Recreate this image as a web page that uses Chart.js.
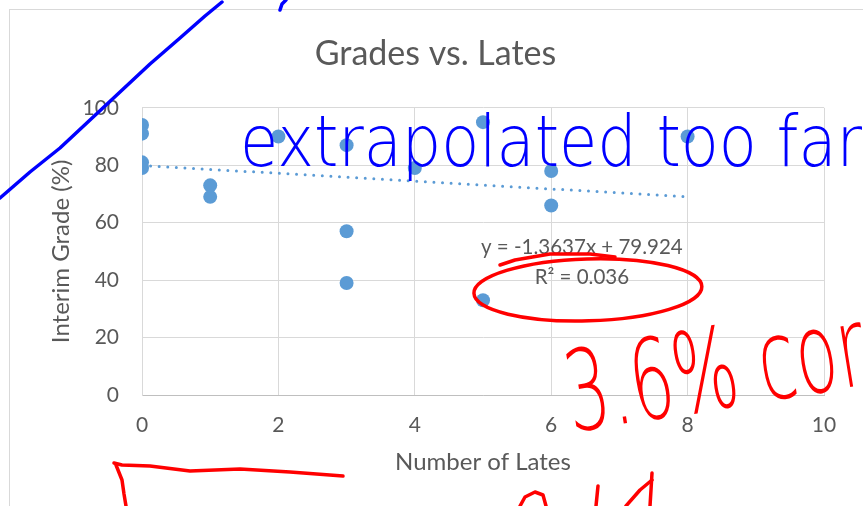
<!DOCTYPE html>
<html>
<head>
<meta charset="utf-8">
<script src="https://cdn.jsdelivr.net/npm/chart.js@4.4.1/dist/chart.umd.min.js"></script>
<style>
  html, body { margin: 0; background: #fff; }
  canvas { display: block; }
</style>
</head>
<body>
<canvas id="gradesChart" width="863" height="506"></canvas>
<script>
// Grades vs. Lates: scatter with linear trendline (Excel style), plus the teacher's ink notes

const TITLE = 'Grades vs. Lates';
const X_TITLE = 'Number of Lates';
const Y_TITLE = 'Interim Grade (%)';

// one entry per student
const LATES  = [0, 0, 0, 0, 1, 1, 2, 3, 3, 3, 4, 5, 5, 6, 6, 8];
const GRADES = [94, 91, 81, 79, 73, 69, 90, 87, 57, 39, 79, 95, 33, 78, 66, 90];

// trendline as printed on the chart
const TREND_SLOPE = -1.3637;
const TREND_INTERCEPT = 79.924;
const TREND_X = [0, 8];
const EQ_LINES = ['y = -1.3637x + 79.924', 'R\u00B2 = 0.036'];
const EQ_AT = [6.45, 46]; // data coords of the label centre

const X_TICKS = [0, 2, 4, 6, 8, 10];
const Y_TICKS = [0, 20, 40, 60, 80, 100];

const FONT = 'Lato, "Open Sans", sans-serif';
const TEXT_GREY = '#595959';
const GRID_GREY = '#d9d9d9';
const MARKER_BLUE = '#5b9bd5';
const INK_BLUE = '#0000ff';
const INK_RED = '#ff0000';

const scatterPoints = LATES.map((x, i) => ({ x, y: GRADES[i] }));
const trendPoints = TREND_X.map(x => ({ x, y: TREND_INTERCEPT + TREND_SLOPE * x }));

// outer chart frame (runs off the right and bottom of the screenshot)
const framePlugin = {
  id: 'frame',
  beforeDraw(chart){
    const ctx = chart.ctx;
    ctx.save();
    ctx.strokeStyle = GRID_GREY;
    ctx.lineWidth = 1;
    ctx.strokeRect(9.5, 9.5, chart.width + 40, chart.height + 40);
    ctx.restore();
  }
};

// trendline equation + R squared
const equationPlugin = {
  id: 'equation',
  afterDatasetsDraw(chart){
    const ctx = chart.ctx;
    const cx = chart.scales.x.getPixelForValue(EQ_AT[0]);
    const cy = chart.scales.y.getPixelForValue(EQ_AT[1]);
    ctx.save();
    ctx.fillStyle = TEXT_GREY;
    ctx.font = '20.5px ' + FONT;
    ctx.textAlign = 'center';
    ctx.textBaseline = 'middle';
    EQ_LINES.forEach((line, i) => {
      ctx.fillText(line, cx, cy + (i - (EQ_LINES.length - 1) / 2) * 30);
    });
    ctx.restore();
  }
};

// hand-drawn pen marks over the screenshot
const INK_STROKES = [
  { color: INK_BLUE, pts: [[0,198],[30,172],[60,148],[90,120],[120,92],[150,64],[180,38],[205,16],[222,2]] },
  { color: INK_BLUE, pts: [[280,10],[282,4],[286,0]] },
  { color: INK_RED, pts: [[500,265],[515,260],[550,254],[590,254],[615,257]] },
  { color: INK_RED, pts: [[114,463],[122,465],[150,466],[190,471],[240,469],[290,472],[343,476]] },
  { color: INK_RED, pts: [[116,465],[122,480],[124,494],[126,506]] },
  { color: INK_RED, pts: [[520,506],[525,497],[535,492],[543,495],[546,506]] },
  { color: INK_RED, pts: [[598,486],[597,496],[596,506]] },
  { color: INK_RED, pts: [[626,506],[640,490],[652,480]] },
  { color: INK_RED, pts: [[652,473],[651,490],[650,506]] }
];
const INK_NOTES = [
  { text: 'extrapolated too far', color: INK_BLUE, x: 240, y: 166, width: 622, size: 72, angle: 0 },
  { text: '3.6% corr', color: INK_RED, x: 572, y: 432, width: 330, size: 112, angle: -0.16 }
];

const inkPlugin = {
  id: 'ink',
  afterDraw(chart){
    const ctx = chart.ctx;
    ctx.save();
    ctx.lineWidth = 3.5;
    ctx.lineCap = 'round';
    ctx.lineJoin = 'round';
    for (const s of INK_STROKES){
      ctx.strokeStyle = s.color;
      ctx.beginPath();
      s.pts.forEach(([x, y], i) => i ? ctx.lineTo(x, y) : ctx.moveTo(x, y));
      ctx.stroke();
    }
    // ellipse round the R squared
    const cx = chart.scales.x.getPixelForValue(EQ_AT[0]) + 6;
    const cy = chart.scales.y.getPixelForValue(EQ_AT[1]) + 27;
    ctx.strokeStyle = INK_RED;
    ctx.beginPath();
    ctx.ellipse(cx, cy, 114, 31, -0.03, 0, Math.PI * 2);
    ctx.stroke();

    for (const n of INK_NOTES){
      ctx.save();
      ctx.font = `200 ${n.size}px "DejaVu Sans", sans-serif`;
      const w = ctx.measureText(n.text).width;
      ctx.translate(n.x, n.y);
      ctx.rotate(n.angle);
      ctx.scale(n.width / w, 1);
      ctx.fillStyle = n.color;
      ctx.textBaseline = 'alphabetic';
      ctx.fillText(n.text, 0, 0);
      ctx.restore();
    }
    ctx.restore();
  }
};

const ctx = document.getElementById('gradesChart');
new Chart(ctx, {
  type: 'scatter',
  data: {
    datasets: [
      {
        label: 'Interim Grade',
        data: scatterPoints,
        backgroundColor: MARKER_BLUE,
        borderColor: MARKER_BLUE,
        borderWidth: 0,
        pointRadius: 7,
        pointHoverRadius: 7
      },
      {
        type: 'line',
        label: 'Linear trend',
        data: trendPoints,
        borderColor: MARKER_BLUE,
        borderWidth: 3,
        borderDash: [0, 8.6],
        borderCapStyle: 'round',
        pointRadius: 0,
        fill: false
      }
    ]
  },
  options: {
    responsive: false,
    animation: false,
    layout: { padding: { left: 47, right: 39, top: 0, bottom: 0 } },
    plugins: {
      legend: { display: false },
      tooltip: { enabled: false },
      title: {
        display: true,
        text: TITLE,
        color: TEXT_GREY,
        font: { family: FONT, size: 34, weight: 'normal' },
        padding: { top: 34, bottom: 33 }
      }
    },
    scales: {
      x: {
        type: 'linear',
        min: 0,
        max: 10,
        afterBuildTicks: s => { s.ticks = X_TICKS.map(value => ({ value })); },
        afterFit: s => { s.height = 111; },
        grid: { color: GRID_GREY, drawTicks: false },
        border: { color: '#bfbfbf' },
        ticks: { color: TEXT_GREY, font: { family: FONT, size: 21 }, padding: 18 },
        title: {
          display: true, text: X_TITLE, color: TEXT_GREY,
          font: { family: FONT, size: 24 }, padding: { top: 0, bottom: 29 }
        }
      },
      y: {
        type: 'linear',
        min: 0,
        max: 100,
        afterBuildTicks: s => { s.ticks = Y_TICKS.map(value => ({ value })); },
        afterFit: s => { s.width = 95; },
        grid: { color: GRID_GREY, drawTicks: false },
        border: { color: GRID_GREY },
        ticks: { color: TEXT_GREY, font: { family: FONT, size: 21 }, padding: 23 },
        title: {
          display: true, text: Y_TITLE, color: TEXT_GREY,
          font: { family: FONT, size: 24 }, padding: { top: 0, bottom: 0 }
        }
      }
    }
  },
  plugins: [framePlugin, equationPlugin, inkPlugin]
});
</script>
</body>
</html>
